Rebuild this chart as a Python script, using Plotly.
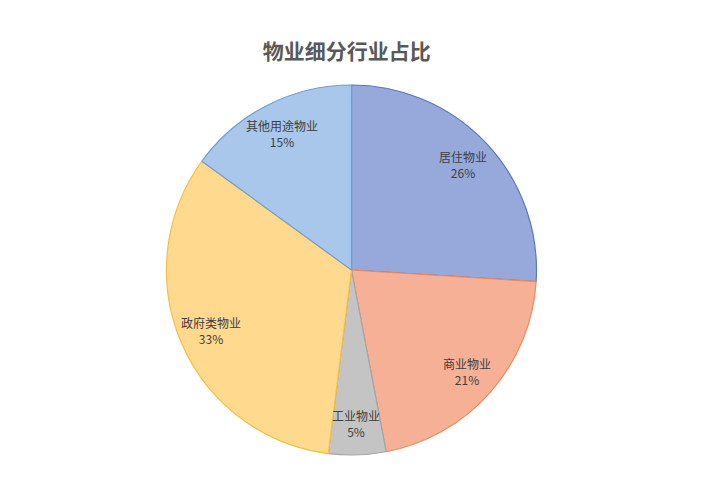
import math
import plotly.graph_objects as go

labels = ["居住物业", "商业物业", "工业物业", "政府类物业", "其他用途物业"]
values = [26, 21, 5, 33, 15]
fill_colors = ["#97a8db", "#f5b096", "#c4c4c4", "#ffd98e", "#a8c7eb"]
line_colors = ["#5b78c2", "#ee8a5e", "#a6a6a6", "#f3c040", "#6f9fd9"]

W, H = 704, 500
OFF = 8  # page body margin offset
L, R, T, B = 166 - OFF, 167 + OFF, 85 - OFF, 45 + OFF
pw, ph = W - L - R, H - T - B
rad = min(pw, ph) / 2
cx, cy = L + pw / 2, T + ph / 2

fig = go.Figure(go.Pie(
    labels=labels, values=values, sort=False, direction="clockwise", rotation=0,
    marker=dict(colors=fill_colors, line=dict(color=line_colors, width=1.2)),
    textinfo="none", hoverinfo="label+percent", showlegend=False,
))

total = sum(values)
cum = 0
annotations = []
for lab, v in zip(labels, values):
    mid = (cum + v / 2) / total * 2 * math.pi
    cum += v
    rr = rad * 0.83
    px = cx + rr * math.sin(mid)
    py = cy - rr * math.cos(mid)
    annotations.append(dict(
        x=(px - L) / pw, y=1 - (py - T) / ph, xref="paper", yref="paper",
        text=f"{lab}<br>{round(v / total * 100)}%", showarrow=False,
        font=dict(size=12, color="#404040", family="Noto Sans CJK SC"),
        xanchor="center", yanchor="middle", align="center",
    ))

fig.update_layout(
    width=W, height=H,
    margin=dict(l=L, r=R, t=T, b=B),
    paper_bgcolor="white", plot_bgcolor="white",
    title=dict(text="<b>物业细分行业占比</b>", x=(351 - OFF) / W, xref="paper", xanchor="center",
               y=1 - (52 - OFF) / H, yanchor="middle",
               font=dict(size=21, color="#595959", family="Noto Sans CJK SC")),
    annotations=annotations,
)
fig.write_html("out.html")
